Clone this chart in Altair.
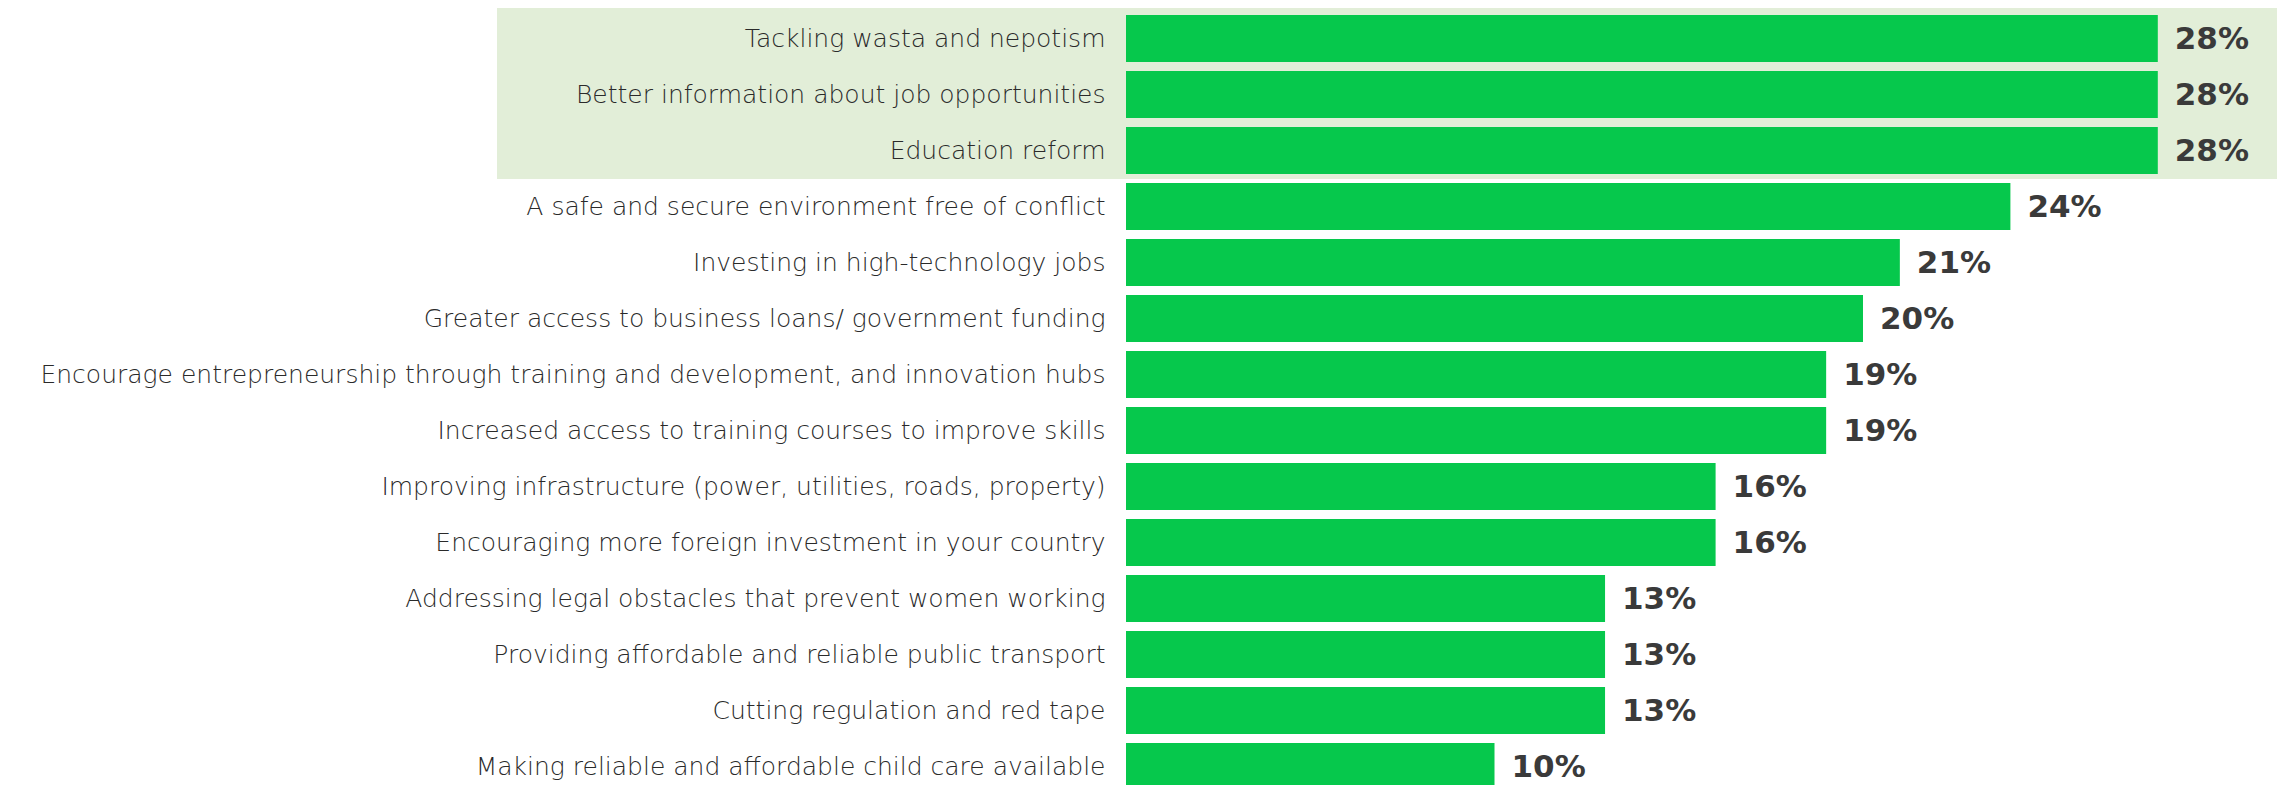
import altair as alt
import pandas as pd

categories = [
    "Tackling wasta and nepotism",
    "Better information about job opportunities",
    "Education reform",
    "A safe and secure environment free of conflict",
    "Investing in high-technology jobs",
    "Greater access to business loans/ government funding",
    "Encourage entrepreneurship through training and development, and innovation hubs",
    "Increased access to training courses to improve skills",
    "Improving infrastructure (power, utilities, roads, property)",
    "Encouraging more foreign investment in your country",
    "Addressing legal obstacles that prevent women working",
    "Providing affordable and reliable public transport",
    "Cutting regulation and red tape",
    "Making reliable and affordable child care available",
]
values = [28, 28, 28, 24, 21, 20, 19, 19, 16, 16, 13, 13, 13, 10]

df = pd.DataFrame({"category": categories, "value": values})
df["label"] = df["value"].astype(str) + "%"

W = 1105.5
H = 774

yenc = alt.Y(
    "category:N",
    sort=categories,
    scale=alt.Scale(paddingInner=0.16, paddingOuter=0.08, range=[0, 784]),
    axis=alt.Axis(
        title=None,
        domain=False,
        ticks=False,
        labelPadding=21,
        labelFontSize=25,
        labelFont="DejaVu Sans",
        labelFontWeight=200,
        labelColor="#2a2a2a",
        labelLimit=2000,
        zindex=2,
    ),
)
xenc = alt.X("value:Q", scale=alt.Scale(domain=[0, 30]), axis=None)

highlight = alt.Chart(df).mark_rect(color="#E2EED8").encode(
    x=alt.value(-629), x2=alt.value(1154), y=alt.value(-5.5), y2=alt.value(168.5)
).transform_filter(alt.datum.category == categories[0])

bars = alt.Chart(df).mark_bar(color="#06C84C").encode(x=xenc, y=yenc)

texts = alt.Chart(df).mark_text(
    align="left", baseline="middle", dx=17, dy=1,
    font="DejaVu Sans", fontWeight="bold", fontSize=31, color="#3a3a3a",
).encode(x=xenc, y=yenc, text="label:N")

chart = (
    alt.layer(highlight, bars, texts)
    .properties(
        width=W,
        height=H,
        background="white",
        autosize=alt.AutoSizeParams(type="none"),
        padding={"left": 1118, "top": 2.5, "right": 45, "bottom": 0},
    )
    .configure_view(stroke="transparent", strokeWidth=0)
)

chart.save("out.html", embed_options={"renderer": "svg", "actions": False})
